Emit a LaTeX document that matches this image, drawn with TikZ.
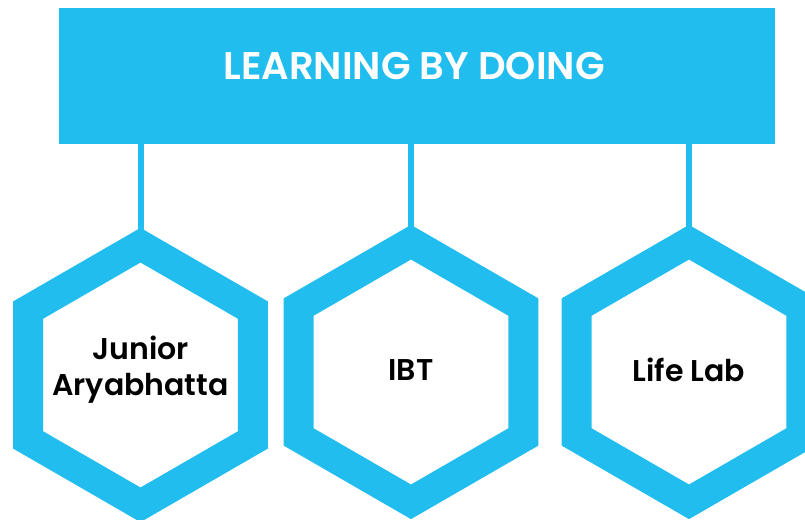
\documentclass[tikz,border=0pt]{standalone}
\usepackage{fontspec}
\setmainfont{Poppins}[BoldFont={Poppins SemiBold}]
\usetikzlibrary{shapes.geometric, backgrounds}
\definecolor{skyBlue}{HTML}{21BDEF}

\begin{document}
\begin{tikzpicture}[x=1pt, y=-1pt,
    hexbox/.style={regular polygon, regular polygon sides=6, shape border rotate=30,
        minimum size=259.6pt, inner sep=0pt, draw=skyBlue, line width=30pt, fill=white},
    hextext/.style={font=\fontsize{30}{36}\selectfont\bfseries, align=center, text=black},
    link/.style={draw=skyBlue, line width=6pt}]
    \useasboundingbox (0, 0) rectangle (805, 519);

    \node[fill=skyBlue, minimum width=716pt, minimum height=136pt, inner sep=0pt] (hdr) at (417, 76) {};
    \node[text=white, font=\fontsize{38.5}{42}\selectfont\bfseries] (title) at (414, 66) {LEARNING BY DOING};

    \node[hexbox, label={[hextext, yshift=5pt]center:Junior\\Aryabhatta}] (junior) at (140.5, 375) {};
    \node[hexbox, label={[hextext, yshift=2pt]center:IBT}] (ibt) at (411, 372) {};
    \node[hexbox, label={[hextext, yshift=2pt]center:Life Lab}] (life) at (689, 372) {};

    \begin{scope}[on background layer]
        \foreach \h in {junior, ibt, life}
            \draw[link] (hdr.south -| \h.center) -- (\h.center);
    \end{scope}
\end{tikzpicture}
\end{document}
